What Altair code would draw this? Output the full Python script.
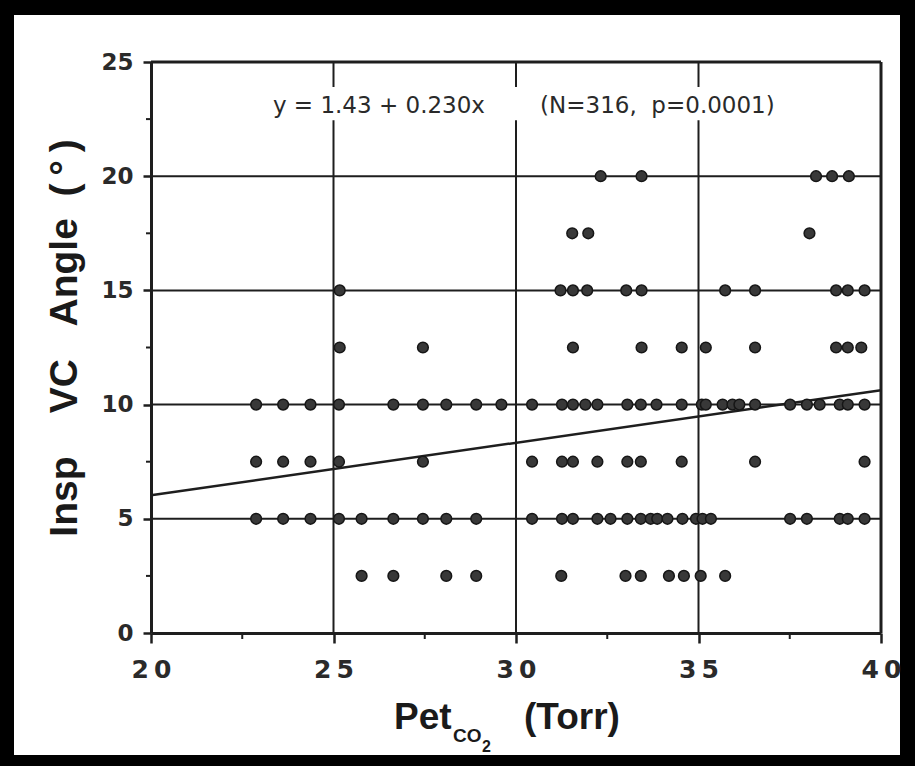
import altair as alt
import pandas as pd

# ---- data ----
y_levels = [20, 17.5, 15, 12.5, 10, 7.5, 5, 2.5]
pet_at_20 = [32.32, 33.44, 38.22, 38.66, 39.12]
pet_at_17_5 = [31.54, 31.98, 38.04]
pet_at_15 = [25.17, 31.22, 31.56, 31.95, 33.02, 33.44, 35.73, 36.55, 38.77, 39.09, 39.55]
pet_at_12_5 = [25.17, 27.45, 31.56, 33.44, 34.54, 35.2, 36.55, 38.77, 39.09, 39.46]
pet_at_10 = [22.88, 23.62, 24.37, 25.15, 26.64, 27.45, 28.09, 28.91, 29.6, 30.44,
             31.26, 31.56, 31.9, 32.23, 33.05, 33.42, 33.85, 34.54, 35.09, 35.2,
             35.66, 35.93, 36.12, 36.55, 37.51, 37.97, 38.32, 38.87, 39.09, 39.55]
pet_at_7_5 = [22.88, 23.62, 24.37, 25.15, 27.45, 30.44, 31.26, 31.56, 32.23, 33.05,
              33.42, 34.54, 36.55, 39.55]
pet_at_5 = [22.88, 23.62, 24.37, 25.15, 25.77, 26.64, 27.45, 28.09, 28.91, 30.44,
            31.26, 31.56, 32.23, 32.59, 33.05, 33.42, 33.69, 33.87, 34.15, 34.56,
            34.93, 35.11, 35.34, 37.51, 37.97, 38.87, 39.09, 39.55]
pet_at_2_5 = [25.77, 26.64, 28.09, 28.91, 31.24, 33.0, 33.42, 34.19, 34.6, 35.06, 35.73]

reg_x = [20, 40]
reg_y = [6.03, 10.63]

h_grid = [5, 10, 15, 20]
v_grid = [25, 30, 35]
x_ticks = [20, 25, 30, 35, 40]
y_ticks = [0, 5, 10, 15, 20, 25]
x_minor = [22.5, 27.5, 32.5, 37.5]
y_minor = [2.5, 7.5, 12.5, 17.5, 22.5]

eq_text = "y\u00a0=\u00a01.43\u00a0+\u00a00.230x"
stat_text = "(N=316,\u00a0\u00a0p=0.0001)"
y_title = "Insp\u00a0\u00a0\u00a0\u00a0VC\u00a0\u00a0\u00a0Angle\u00a0\u00a0(\u2009°\u2009)"

# ---- tables ----
series = [pet_at_20, pet_at_17_5, pet_at_15, pet_at_12_5, pet_at_10, pet_at_7_5, pet_at_5, pet_at_2_5]
rows = []
for lvl, xs in zip(y_levels, series):
    rows += [{"x": v, "y": lvl} for v in xs]
pts = pd.DataFrame(rows)
reg = pd.DataFrame({"x": reg_x, "y": reg_y})
hg = pd.DataFrame({"y": h_grid})
vg = pd.DataFrame({"x": v_grid})
top_df = pd.DataFrame({"y": [25]})
right_df = pd.DataFrame({"x": [40]})
xm = pd.DataFrame({"x": x_minor})
ym = pd.DataFrame({"y": y_minor})
one = pd.DataFrame({"a": [0]})

INK = "#1e1e1e"

xscale = alt.Scale(domain=[20, 40], nice=False, zero=False)
yscale = alt.Scale(domain=[0, 25], nice=False, zero=False)

xaxis = alt.Axis(values=x_ticks, grid=False, title=None, tickSize=10, tickWidth=2.5,
                 tickColor=INK, domainColor=INK, domainWidth=3,
                 labelFont="DejaVu Sans", labelFontWeight="bold", labelFontSize=25,
                 labelColor="#2a2a2a", labelPadding=14, labelFlush=False,
                 labelOverlap=False, zindex=1,
                 labelExpr="substring(datum.label,0,1) + '\u2009' + substring(datum.label,1)")
yaxis = alt.Axis(values=y_ticks, grid=False, title=None, tickSize=8, tickWidth=2.5,
                 tickColor=INK, domainColor=INK, domainWidth=3,
                 labelFont="DejaVu Sans", labelFontWeight="bold", labelFontSize=23,
                 labelColor="#2a2a2a", labelPadding=10, labelFlush=False,
                 labelOverlap=False, zindex=1)

bg = alt.Chart(one).mark_rect(color="white").encode(
    x=alt.value(-137), x2=alt.value(749), y=alt.value(-47), y2=alt.value(693))

hgrid = alt.Chart(hg).mark_rule(color=INK, strokeWidth=2).encode(
    y=alt.Y("y:Q", scale=yscale, axis=yaxis))
vgrid = alt.Chart(vg).mark_rule(color=INK, strokeWidth=2).encode(
    x=alt.X("x:Q", scale=xscale, axis=xaxis))
top_rule = alt.Chart(top_df).mark_rule(color=INK, strokeWidth=3).encode(y="y:Q")
right_rule = alt.Chart(right_df).mark_rule(color=INK, strokeWidth=3).encode(x="x:Q")

gap = alt.Chart(one).mark_rect(color="white").encode(
    x=alt.datum(23.2), x2=alt.datum(37.6), y=alt.datum(22.45), y2=alt.datum(23.9))

eq = alt.Chart(one).mark_text(text=eq_text, align="left", baseline="alphabetic",
                              font="DejaVu Sans", fontSize=23, color="#2a2a2a").encode(
    x=alt.datum(23.34), y=alt.datum(22.75))
stat = alt.Chart(one).mark_text(text=stat_text, align="left", baseline="alphabetic",
                                font="DejaVu Sans", fontSize=23, color="#2a2a2a").encode(
    x=alt.datum(30.66), y=alt.datum(22.75))

xminor = alt.Chart(xm).mark_rule(color=INK, strokeWidth=2).encode(
    x="x:Q", y=alt.value(571), y2=alt.value(577))
yminor = alt.Chart(ym).mark_rule(color=INK, strokeWidth=2).encode(
    y="y:Q", x=alt.value(-5), x2=alt.value(0))

line = alt.Chart(reg).mark_line(color=INK, strokeWidth=2.5).encode(x="x:Q", y="y:Q")
dots = alt.Chart(pts).mark_circle(size=115, color="#383838", stroke="#161616",
                                  strokeWidth=1.5, opacity=1).encode(x="x:Q", y="y:Q")

TF = "Liberation Sans"
t_pet = alt.Chart(one).mark_text(text="Pet", align="left", baseline="alphabetic", font=TF,
                                 fontWeight="bold", fontSize=37, color="#1a1a1a").encode(
    x=alt.value(243), y=alt.value(667))
t_co = alt.Chart(one).mark_text(text="CO", align="left", baseline="alphabetic", font=TF,
                                fontWeight="bold", fontSize=19, color="#1a1a1a").encode(
    x=alt.value(302), y=alt.value(680))
t_2 = alt.Chart(one).mark_text(text="2", align="left", baseline="alphabetic", font=TF,
                               fontWeight="bold", fontSize=16, color="#1a1a1a").encode(
    x=alt.value(331), y=alt.value(690))
t_torr = alt.Chart(one).mark_text(text="(Torr)", align="left", baseline="alphabetic", font=TF,
                                  fontWeight="bold", fontSize=37, color="#1a1a1a").encode(
    x=alt.value(373), y=alt.value(667))
t_y = alt.Chart(one).mark_text(text=y_title, align="center", baseline="alphabetic", font=TF,
                               fontWeight="bold", fontSize=39, angle=270,
                               color="#1a1a1a").encode(
    x=alt.value(-74), y=alt.value(276))

chart = alt.layer(
    bg, hgrid, vgrid, top_rule, right_rule, gap, eq, stat, xminor, yminor,
    line, dots, t_pet, t_co, t_2, t_torr, t_y
).properties(
    width=730, height=571,
    padding={"left": 151, "top": 62, "right": 34, "bottom": 133},
    autosize=alt.AutoSizeParams(type="none"),
    background="black",
).configure_view(strokeWidth=0)

chart.save("out.html", embed_options={"renderer": "svg", "actions": False})
